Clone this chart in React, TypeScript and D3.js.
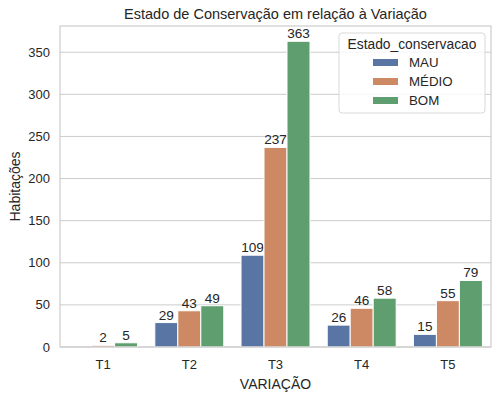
import React from "react";
import * as d3 from "d3";

const categories = ["T1", "T2", "T3", "T4", "T5"];
const seriesNames = ["MAU", "MÉDIO", "BOM"];
const mau: (number | null)[] = [null, 29, 109, 26, 15];
const medio: (number | null)[] = [2, 43, 237, 46, 55];
const bom: (number | null)[] = [5, 49, 363, 58, 79];
const yTicks = [0, 50, 100, 150, 200, 250, 300, 350];
const colors = ["#5875a4", "#cc8963", "#5f9e6e"];

const W = 500, H = 400;
const M = { left: 60, right: 9, top: 26, bottom: 53 };
const FONT = "'Liberation Sans', Arial, sans-serif";

export default function App() {
  const series = [mau, medio, bom];
  const x = d3.scaleBand().domain(categories).range([M.left, W - M.right]).paddingInner(0).paddingOuter(0);
  const maxV = d3.max(series.flat().filter((v) => v != null) as number[]) as number;
  const y = d3.scaleLinear().domain([0, maxV * 1.05]).range([H - M.bottom, M.top]);
  const bw = x.bandwidth() * 0.8 / 3;
  const text = "#262626";
  return (
    <svg width={W} height={H} style={{ position: "absolute", left: 0, top: 0, background: "#fff" }} fontFamily={FONT}>
      <rect x={M.left} y={M.top} width={W - M.left - M.right} height={H - M.top - M.bottom} fill="#fff" />
      {yTicks.map((t) => (
        <g key={t}>
          <line x1={M.left} x2={W - M.right} y1={y(t)} y2={y(t)} stroke="#cccccc" strokeWidth={1} />
          <text x={M.left - 10} y={y(t)} dy="0.35em" textAnchor="end" fontSize={13} fill={text}>{t}</text>
        </g>
      ))}
      {categories.map((c, ci) => (
        <g key={c}>
          {series.map((s, si) => {
            const v = s[ci];
            if (v == null) return null;
            const cx = (x(c) as number) + x.bandwidth() / 2 + (si - 1) * bw;
            const x0 = cx - bw / 2;
            return (
              <g key={si}>
                <rect x={x0} y={y(v)} width={bw} height={y(0) - y(v)} fill={colors[si]} stroke="#fff" strokeWidth={1} />
                <text x={cx} y={y(v) - 3} textAnchor="middle" fontSize={13.6} fill={text}>{v}</text>
              </g>
            );
          })}
          <text x={(x(c) as number) + x.bandwidth() / 2} y={H - M.bottom + 17} dy="0.35em" textAnchor="middle" fontSize={13} fill={text}>{c}</text>
        </g>
      ))}
      <rect x={M.left} y={M.top} width={W - M.left - M.right} height={H - M.top - M.bottom} fill="none" stroke="#cccccc" strokeWidth={1.2} />
      <text x={(M.left + W - M.right) / 2} y={14} dy="0.35em" textAnchor="middle" fontSize={14.5} fill={text}>Estado de Conservação em relação à Variação</text>
      <text x={(M.left + W - M.right) / 2} y={384} dy="0.35em" textAnchor="middle" fontSize={14} fill={text}>VARIAÇÃO</text>
      <text transform={`translate(15,${(M.top + H - M.bottom) / 2}) rotate(-90)`} dy="0.35em" textAnchor="middle" fontSize={14} fill={text}>Habitações</text>
      <g>
        <rect x={339} y={33} width={146} height={80} rx={3} fill="#fff" fillOpacity={0.8} stroke="#d9d9d9" strokeWidth={1} />
        <text x={412} y={44} dy="0.35em" textAnchor="middle" fontSize={13.8} fill={text}>Estado_conservacao</text>
        {seriesNames.map((n, i) => (
          <g key={n}>
            <rect x={373} y={59 + i * 19} width={25} height={7} fill={colors[i]} />
            <text x={409} y={62.5 + i * 19} dy="0.35em" fontSize={13.3} fill={text}>{n}</text>
          </g>
        ))}
      </g>
    </svg>
  );
}
